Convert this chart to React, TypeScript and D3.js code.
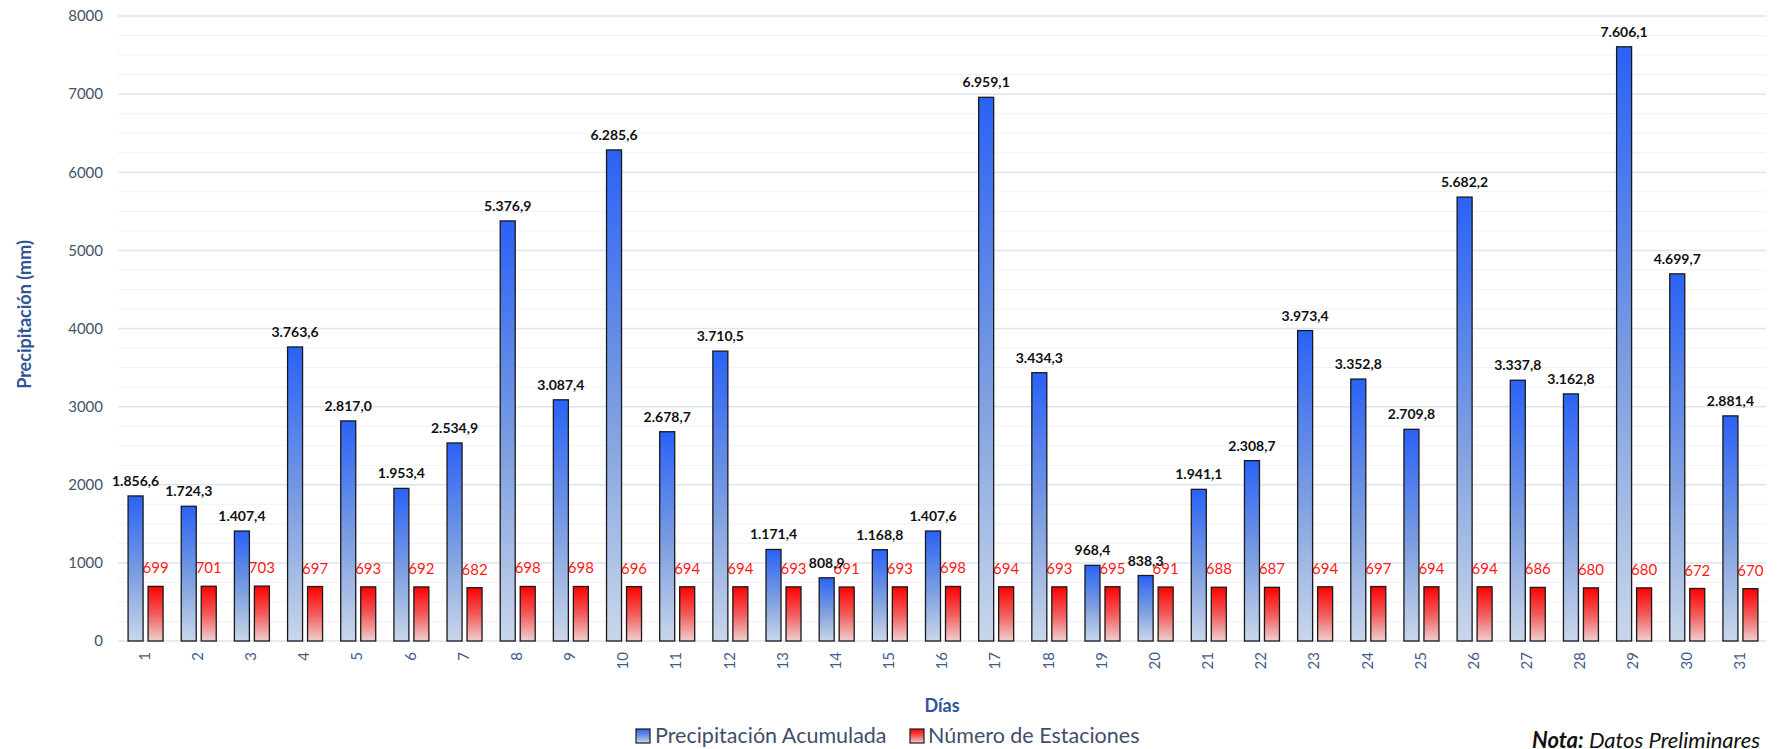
import React from "react";
import * as d3 from "d3";

// Daily accumulated precipitation and number of reporting stations
const days: string[] = Array.from({ length: 31 }, (_, i) => String(i + 1));
const precipitation: number[] = [
  1856.6, 1724.3, 1407.4, 3763.6, 2817.0, 1953.4, 2534.9, 5376.9, 3087.4, 6285.6,
  2678.7, 3710.5, 1171.4, 808.9, 1168.8, 1407.6, 6959.1, 3434.3, 968.4, 838.3,
  1941.1, 2308.7, 3973.4, 3352.8, 2709.8, 5682.2, 3337.8, 3162.8, 7606.1, 4699.7,
  2881.4,
];
const stations: number[] = [
  699, 701, 703, 697, 693, 692, 682, 698, 698, 696,
  694, 694, 693, 691, 693, 698, 694, 693, 695, 691,
  688, 687, 694, 697, 694, 694, 686, 680, 680, 672,
  670,
];
const yTicks: number[] = [0, 1000, 2000, 3000, 4000, 5000, 6000, 7000, 8000];
const seriesNames: string[] = ["Precipitación Acumulada", "Número de Estaciones"];

const W = 1782;
const H = 749;
const FONT = "Lato, 'Open Sans', sans-serif";

const fmtPrecip = (v: number) => {
  const s = v.toFixed(1);
  const [int, dec] = s.split(".");
  const withDots = int.replace(/\B(?=(\d{3})+(?!\d))/g, ".");
  return `${withDots},${dec}`;
};

export default function App() {
  const left = 118;
  const right = 1766;
  const top = 16;
  const bottom = 641;

  const x = d3.scaleBand<string>().domain(days).range([left, right]).padding(0);
  const y = d3.scaleLinear().domain([0, 8000]).range([bottom, top]);
  const minorTicks = d3.range(0, 8001, 250).filter((v) => v % 1000 !== 0);

  const bw = x.bandwidth();
  const barW = 15;
  const gap = 5;
  const groupW = barW * 2 + gap;
  const offset = (bw - groupW) / 2 + 1;

  return (
    <div style={{ position: "fixed", left: 0, top: 0 }}>
      <svg width={W} height={H} style={{ display: "block", background: "#fff" }}>
        <defs>
          <linearGradient id="gBlue" x1="0" y1="0" x2="0" y2="1">
            <stop offset="0%" stopColor="#2A62F6" />
            <stop offset="55%" stopColor="#7E9FE0" />
            <stop offset="100%" stopColor="#CAD7EA" />
          </linearGradient>
          <linearGradient id="gRed" x1="0" y1="0" x2="0" y2="1">
            <stop offset="0%" stopColor="#FF0000" />
            <stop offset="50%" stopColor="#F25A5A" />
            <stop offset="100%" stopColor="#EFCFCF" />
          </linearGradient>
        </defs>

        {/* grid */}
        {minorTicks.map((t) => (
          <line key={`m${t}`} x1={left} x2={right} y1={y(t)} y2={y(t)} stroke="#EEF2F8" strokeWidth={1} />
        ))}
        {yTicks.map((t) => (
          <line key={`g${t}`} x1={left} x2={right} y1={y(t)} y2={y(t)} stroke="#DCE5F1" strokeWidth={1.5} />
        ))}

        {/* y tick labels */}
        {yTicks.map((t) => (
          <text key={`yt${t}`} x={103} y={y(t)} dy="0.35em" textAnchor="end" fontFamily={FONT} fontSize={15} fill="#44546A">
            {t}
          </text>
        ))}

        {/* station count labels */}
        {days.map((d, i) => (
          <text
            key={`sl${d}`}
            x={(x(d) as number) + offset + barW + gap + barW / 2}
            y={y(stations[i]) - 13}
            textAnchor="middle"
            fontFamily={FONT}
            fontSize={15}
            fill="#FF1A1A"
          >
            {stations[i]}
          </text>
        ))}

        {/* precipitation bars */}
        {days.map((d, i) => (
          <rect
            key={`pb${d}`}
            x={(x(d) as number) + offset}
            y={y(precipitation[i])}
            width={barW}
            height={bottom - y(precipitation[i])}
            fill="url(#gBlue)"
            stroke="#1A1A1A"
            strokeWidth={1.3}
          />
        ))}

        {/* station bars */}
        {days.map((d, i) => (
          <rect
            key={`sb${d}`}
            x={(x(d) as number) + offset + barW + gap}
            y={y(stations[i])}
            width={barW}
            height={bottom - y(stations[i])}
            fill="url(#gRed)"
            stroke="#1A1A1A"
            strokeWidth={1.3}
          />
        ))}

        {/* precipitation labels */}
        {days.map((d, i) => (
          <text
            key={`pl${d}`}
            x={(x(d) as number) + offset + barW / 2}
            y={y(precipitation[i]) - 10}
            textAnchor="middle"
            fontFamily={FONT}
            fontSize={14}
            fontWeight="bold"
            fill="#111"
          >
            {fmtPrecip(precipitation[i])}
          </text>
        ))}

        {/* x tick labels */}
        {days.map((d) => {
          const cx = (x(d) as number) + bw / 2;
          return (
            <text
              key={`xt${d}`}
              transform={`translate(${cx},652) rotate(-90)`}
              dy="0.35em"
              textAnchor="end"
              fontFamily={FONT}
              fontSize={15}
              fill="#3F5C8C"
            >
              {d}
            </text>
          );
        })}

        {/* axis titles */}
        <text
          transform={`translate(25,${(top + bottom) / 2 - 14}) rotate(-90)`}
          dy="0.35em"
          textAnchor="middle"
          fontFamily={FONT}
          fontSize={18}
          fontWeight="bold"
          fill="#2F5597"
        >
          Precipitación (mm)
        </text>
        <text x={(left + right) / 2} y={712} textAnchor="middle" fontFamily={FONT} fontSize={18} fontWeight="bold" fill="#2F5597">
          Días
        </text>

        {/* legend */}
        <g fontFamily={FONT} fontSize={21.5} fill="#3F4E6A">
          <rect x={636} y={729} width={14} height={14} fill="url(#gBlue)" stroke="#1A1A1A" strokeWidth={1.2} />
          <text x={655} y={743}>{seriesNames[0]}</text>
          <rect x={910} y={729} width={14} height={14} fill="url(#gRed)" stroke="#1A1A1A" strokeWidth={1.2} />
          <text x={928} y={743}>{seriesNames[1]}</text>
        </g>

        {/* note */}
        <text x={1532} y={748} fontFamily={FONT} fontSize={22} fontStyle="italic" fill="#111">
          <tspan fontWeight="bold">Nota:</tspan>
          <tspan> Datos Preliminares</tspan>
        </text>
      </svg>
    </div>
  );
}
